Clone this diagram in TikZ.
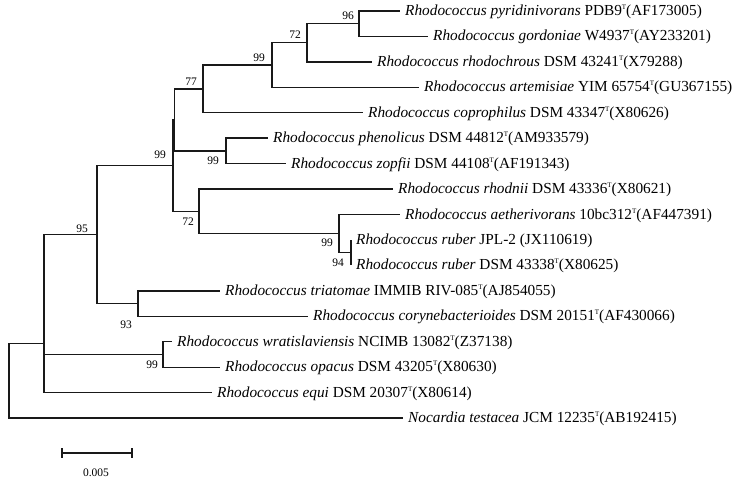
\documentclass[tikz,border=0pt]{standalone}
\usepackage{fontspec}
\setmainfont{Liberation Serif}
\newcommand\Tsup{\raisebox{6pt}{\fontsize{7}{8}\selectfont T}}
\begin{document}
\begin{tikzpicture}[x=1pt,y=-1pt,
  br/.style={line width=1.4pt, line join=miter, draw=black!90},
  lf/.style={anchor=base west, inner sep=0pt, xshift=5pt, yshift=-4.5pt, font=\fontsize{15.3}{18}\selectfont},
  bs/.style={inner sep=0pt, font=\fontsize{11.5}{12}\selectfont}]
\useasboundingbox[fill=white] (0,0) rectangle (743,481);
% internal nodes
\coordinate (root) at (9,380.8);
\coordinate (nIn) at (44,343.6);
\coordinate (nY) at (44,294.5);
\coordinate (n95) at (97,234.6);
\coordinate (n99b) at (173,165.6);
\coordinate (nX) at (174.5,119.9);
\coordinate (n77) at (203,88.9);
\coordinate (n99a) at (272,65);
\coordinate (n72a) at (307,42.8);
\coordinate (n96) at (359,23.7);
\coordinate (nPZ) at (226,150.9);
\coordinate (n72b) at (199,211.3);
\coordinate (n99c) at (339,233.6);
\coordinate (nRub) at (351,252.7);
\coordinate (n93) at (138,303.6);
\coordinate (nWO) at (163,354.5);
% leaf ends
\coordinate (e1) at (400,11);
\coordinate (e2) at (428,36.4);
\coordinate (e3) at (372,61.9);
\coordinate (e4) at (419,87.3);
\coordinate (e5) at (363,112.8);
\coordinate (e6) at (268,138.2);
\coordinate (e7) at (286,163.6);
\coordinate (e8) at (393,189.1);
\coordinate (e9) at (400,214.5);
\coordinate (e10) at (351,240);
\coordinate (e11) at (351,265.4);
\coordinate (e12) at (220,290.8);
\coordinate (e13) at (308,316.3);
\coordinate (e14) at (172,341.7);
\coordinate (e15) at (220,367.2);
\coordinate (e16) at (212,392.6);
\coordinate (e17) at (403,418);
% leaf labels
\node[lf] (t1) at (e1) {\textit{Rhodococcus pyridinivorans} PDB9\Tsup(AF173005)};
\node[lf] (t2) at (e2) {\textit{Rhodococcus gordoniae} W4937\Tsup(AY233201)};
\node[lf] (t3) at (e3) {\textit{Rhodococcus rhodochrous} DSM 43241\Tsup(X79288)};
\node[lf] (t4) at (e4) {\textit{Rhodococcus artemisiae} YIM 65754\Tsup(GU367155)};
\node[lf] (t5) at (e5) {\textit{Rhodococcus coprophilus} DSM 43347\Tsup(X80626)};
\node[lf] (t6) at (e6) {\textit{Rhodococcus phenolicus} DSM 44812\Tsup(AM933579)};
\node[lf] (t7) at (e7) {\textit{Rhodococcus zopfii} DSM 44108\Tsup(AF191343)};
\node[lf] (t8) at (e8) {\textit{Rhodococcus rhodnii} DSM 43336\Tsup(X80621)};
\node[lf] (t9) at (e9) {\textit{Rhodococcus aetherivorans} 10bc312\Tsup(AF447391)};
\node[lf] (t10) at (e10) {\textit{Rhodococcus ruber} JPL-2 (JX110619)};
\node[lf] (t11) at (e11) {\textit{Rhodococcus ruber} DSM 43338\Tsup(X80625)};
\node[lf] (t12) at (e12) {\textit{Rhodococcus triatomae} IMMIB RIV-085\Tsup(AJ854055)};
\node[lf] (t13) at (e13) {\textit{Rhodococcus corynebacterioides} DSM 20151\Tsup(AF430066)};
\node[lf] (t14) at (e14) {\textit{Rhodococcus wratislaviensis} NCIMB 13082\Tsup(Z37138)};
\node[lf] (t15) at (e15) {\textit{Rhodococcus opacus} DSM 43205\Tsup(X80630)};
\node[lf] (t16) at (e16) {\textit{Rhodococcus equi} DSM 20307\Tsup(X80614)};
\node[lf] (t17) at (e17) {\textit{Nocardia testacea} JCM 12235\Tsup(AB192415)};
% branches
\draw[br] (root) |- (nIn);  \draw[br] (root) |- (e17);
\draw[br] (nIn) |- (nY);    \draw[br] (nIn) |- (e16);
\draw[br] (nY) |- (n95);    \draw[br] (nY) |- (nWO);
\draw[br] (n95) |- (n99b);  \draw[br] (n95) |- (n93);
\draw[br] (n99b) |- (nX);   \draw[br] (n99b) |- (n72b);
\draw[br] (nX) |- (n77);    \draw[br] (nX) |- (nPZ);
\draw[br] (n77) |- (n99a);  \draw[br] (n77) |- (e5);
\draw[br] (n99a) |- (n72a); \draw[br] (n99a) |- (e4);
\draw[br] (n72a) |- (n96);  \draw[br] (n72a) |- (e3);
\draw[br] (n96) |- (e1);    \draw[br] (n96) |- (e2);
\draw[br] (nPZ) |- (e6);    \draw[br] (nPZ) |- (e7);
\draw[br] (n72b) |- (e8);   \draw[br] (n72b) |- (n99c);
\draw[br] (n99c) |- (e9);   \draw[br] (n99c) |- (nRub);
\draw[br] (nRub) |- (e10);  \draw[br] (nRub) |- (e11);
\draw[br] (n93) |- (e12);   \draw[br] (n93) |- (e13);
\draw[br] (nWO) |- (e14);   \draw[br] (nWO) |- (e15);
% bootstrap values
\node[bs] (b96) at (348,16) {96};
\node[bs] (b72a) at (295,35) {72};
\node[bs] (b99a) at (259,58) {99};
\node[bs] (b77) at (191,82) {77};
\node[bs] (b99b) at (160,155) {99};
\node[bs] (b99pz) at (213,161) {99};
\node[bs] (b72b) at (188,222) {72};
\node[bs] (b99c) at (327,243) {99};
\node[bs] (b94) at (338,263) {94};
\node[bs] (b95) at (82,229) {95};
\node[bs] (b93) at (126,325) {93};
\node[bs] (b99wo) at (152,365) {99};
% scale bar
\coordinate (sbL) at (62,453);
\coordinate (sbR) at (132,453);
\draw[br] (sbL) -- (sbR);
\draw[br] ([yshift=5pt]sbL) -- ([yshift=-5pt]sbL);
\draw[br] ([yshift=5pt]sbR) -- ([yshift=-5pt]sbR);
\node[bs] (sblab) at (96,473) {0.005};
\end{tikzpicture}
\end{document}
